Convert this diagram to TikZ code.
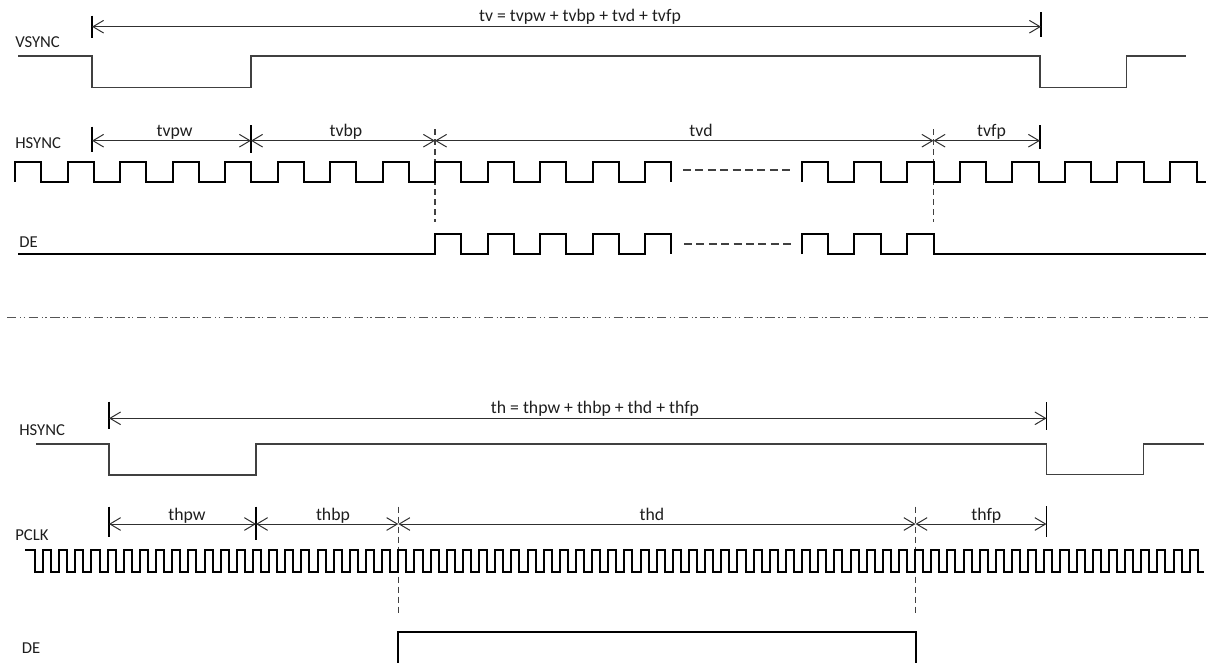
\documentclass[tikz,border=0pt]{standalone}
\usepackage{fontspec}
\setmainfont{Carlito}
\usetikzlibrary{arrows.meta}
\definecolor{linec}{HTML}{404040}
\definecolor{arrc}{HTML}{303030}
\definecolor{sepc}{HTML}{555555}
\definecolor{textc}{HTML}{1E1E1E}
\begin{document}
\begin{tikzpicture}[x=0.75pt,y=-0.75pt,
  sig/.style={draw=linec, line width=0.95pt},
  wave/.style={draw=black, line width=1.5pt, line join=miter},
  dim/.style={draw=arrc, line width=0.75pt, {Straight Barb[length=8pt,width=9.5pt]}-{Straight Barb[length=8pt,width=9.5pt]}},
  tickmark/.style={draw=black, line width=1.4pt},
  guide/.style={draw=linec, line width=0.9pt, dash pattern=on 4.5pt off 3pt},
  gapdash/.style={draw=linec, line width=1pt, dash pattern=on 6pt off 3.3pt},
  sepline/.style={draw=sepc, line width=1.1pt, dash pattern=on 7pt off 2.75pt on 1pt off 1.75pt on 1pt off 2.75pt},
  lab/.style={font=\fontsize{12.5}{15}\selectfont, text=textc, inner sep=0pt},
  tlab/.style={lab, font=\fontsize{13.3}{16}\selectfont, anchor=base},
  slab/.style={lab, anchor=west}
]
\useasboundingbox (0,0) rectangle (1211,662);

% ---------------- upper part ----------------
\node[slab] (lvs) at (15,41.7) {VSYNC};
\node[slab] (lhs) at (15,143.3) {HSYNC};
\node[slab] (lde) at (19,242) {DE};

% VSYNC
\draw[sig] (18,56) -- (92,56) -- (92,87.3) -- (251,87.3) -- (251,56) -- (1040,56) -- (1040,87.3) -- (1126.5,87.3) -- (1126.5,56) -- (1186,56);

% tv dimension
\coordinate (tvA) at (92,26.7);
\coordinate (tvE) at (1041,26.7);
\draw[tickmark] (92,15.5) -- (92,37.5);
\draw[tickmark] (1041,12) -- (1041,36.5);
\draw[dim] (tvA) -- (tvE);
\node[tlab] (ltv) at (580,21.5) {tv = tvpw + tvbp + tvd + tvfp};

% row dimensions
\coordinate (vA) at (92,140.7);
\coordinate (vB) at (251,140.7);
\coordinate (vC) at (435,140.7);
\coordinate (vD) at (933.5,140.7);
\coordinate (vE) at (1040,140.7);
\draw[tickmark] (92,126.7) -- (92,151.7);
\draw[tickmark] (251,125) -- (251,153);
\draw[tickmark] (1040,125) -- (1040,148.5);
\draw[guide] (435,129) -- (435,222);
\draw[guide] (933.5,129) -- (933.5,222);
\draw[dim] (vA) -- (vB);
\draw[dim] (vB) -- (vC);
\draw[dim] (vC) -- (vD);
\draw[dim] (vD) -- (vE);
\node[tlab] (ltvpw) at (174.5,136) {tvpw};
\node[tlab] (ltvbp) at (346,136) {tvbp};
\node[tlab] (ltvd) at (701,136.5) {tvd};
\node[tlab] (ltvfp) at (991.5,136) {tvfp};

% HSYNC (upper)
\draw[wave] (15,181.5) -- (15,161.5)
  \foreach \k in {0,...,11} { -- ({41.25+52.5*\k},161.5) -- ({41.25+52.5*\k},181.5) -- ({67.5+52.5*\k},181.5) -- ({67.5+52.5*\k},161.5) }
  -- (671.25,161.5) -- (671.25,181.5);
\draw[gapdash] (683,170) -- (790,170);
\draw[wave] (801.7,181.5) -- (801.7,161.5)
  \foreach \k in {0,...,6} { -- ({828.3+52.6*\k},161.5) -- ({828.3+52.6*\k},181.5) -- ({854.3+52.6*\k},181.5) -- ({854.3+52.6*\k},161.5) }
  -- (1196.5,161.5) -- (1196.5,181.5) -- (1206,181.5);

% DE (upper)
\draw[wave] (18,254) -- (435,254) -- (435,233.5)
  \foreach \k in {8,...,11} { -- ({41.25+52.5*\k},233.5) -- ({41.25+52.5*\k},254) -- ({67.5+52.5*\k},254) -- ({67.5+52.5*\k},233.5) }
  -- (671.25,233.5) -- (671.25,254);
\draw[gapdash] (684,244) -- (791,244);
\draw[wave] (801.7,254) -- (801.7,233.5)
  \foreach \k in {0,1} { -- ({828.3+52.6*\k},233.5) -- ({828.3+52.6*\k},254) -- ({854.3+52.6*\k},254) -- ({854.3+52.6*\k},233.5) }
  -- (933.5,233.5) -- (933.5,254) -- (1206,254);

% separator
\draw[sepline] (7,317.7) -- (1210,317.7);

% ---------------- lower part ----------------
\node[slab] (lhs2) at (19,430) {HSYNC};
\node[slab] (lpclk) at (15,535) {PCLK};
\node[slab] (lde2) at (21.5,648) {DE};

% th dimension
\coordinate (thA) at (109,418.3);
\coordinate (thE) at (1046.5,418.3);
\draw[tickmark] (109,401.7) -- (109,429.3);
\draw[tickmark] (1046.5,402) -- (1046.5,430);
\draw[dim] (thA) -- (thE);
\node[tlab] (lth) at (595,413.5) {th = thpw + thbp + thd + thfp};

% HSYNC (lower)
\draw[sig] (36,444) -- (109,444) -- (109,475) -- (256,475) -- (256,444) -- (1046.5,444) -- (1046.5,474.5) -- (1143.3,474.5) -- (1143.3,444) -- (1204,444);

% row dimensions
\coordinate (hA) at (109,524);
\coordinate (hB) at (256,524);
\coordinate (hC) at (398.3,524);
\coordinate (hD) at (915.5,524);
\coordinate (hE) at (1046.5,524);
\draw[tickmark] (109,506.7) -- (109,537.3);
\draw[tickmark] (256,506.7) -- (256,540);
\draw[tickmark] (1046.5,506) -- (1046.5,537.3);
\draw[guide] (398.3,506.5) -- (398.3,616);
\draw[guide] (915.5,506.5) -- (915.5,616);
\draw[dim] (hA) -- (hB);
\draw[dim] (hB) -- (hC);
\draw[dim] (hC) -- (hD);
\draw[dim] (hD) -- (hE);
\node[tlab] (lthpw) at (187,520.5) {thpw};
\node[tlab] (lthbp) at (333,520.5) {thbp};
\node[tlab] (lthd) at (652,520.5) {thd};
\node[tlab] (lthfp) at (986.3,520.5) {thfp};

% PCLK
\draw[wave] (25,550)
  \foreach \k in {-23,...,48} { -- ({406.375+16.15*\k},550) -- ({406.375+16.15*\k},572) -- ({414.45+16.15*\k},572) -- ({414.45+16.15*\k},550) }
  -- (1197.7,550) -- (1197.7,572) -- (1204,572);

% DE (lower)
\draw[wave] (398.3,665) -- (398.3,632) -- (915.5,632) -- (915.5,665);
\end{tikzpicture}
\end{document}
